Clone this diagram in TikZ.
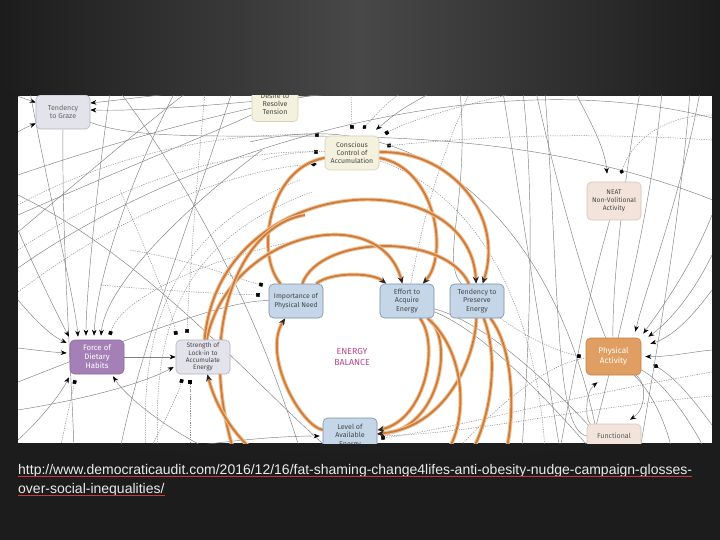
\documentclass[tikz,border=0pt]{standalone}
\usepackage{fontspec}
\setmainfont{Liberation Sans}
\newfontfamily\nodefont{Fira Sans}
\usetikzlibrary{arrows.meta,fadings}
\definecolor{bgdark}{RGB}{28,28,28}
\definecolor{bgmid}{RGB}{72,72,72}
\definecolor{orng}{RGB}{206,124,58}
\definecolor{orhalo}{RGB}{240,196,156}
\definecolor{grazef}{RGB}{227,227,235}
\definecolor{grazeb}{RGB}{178,178,192}
\definecolor{creamf}{RGB}{244,241,222}
\definecolor{creamb}{RGB}{214,208,182}
\definecolor{peachf}{RGB}{242,228,218}
\definecolor{peachb}{RGB}{214,194,180}
\definecolor{bluef}{RGB}{196,214,231}
\definecolor{blueb}{RGB}{120,142,166}
\definecolor{purplef}{RGB}{165,128,183}
\definecolor{purpleb}{RGB}{140,104,160}
\definecolor{paf}{RGB}{224,158,98}
\definecolor{pab}{RGB}{198,128,70}
\definecolor{ebtext}{RGB}{186,70,140}
\definecolor{ulred}{RGB}{205,55,55}
\tikzfading[name=fadedown, top color=transparent!100, bottom color=transparent!0]
\pgfdeclarelayer{back}
\pgfdeclarelayer{lines}
\pgfsetlayers{back,lines,main}
\begin{document}
\begin{tikzpicture}[x=1pt,y=-1pt,
  box/.style={rounded corners=4.5pt, line width=0.6pt, minimum width=54pt, minimum height=34pt,
    align=center, inner sep=1pt, font=\nodefont\fontsize{7.1}{8.2}\selectfont, text=black!72},
  gl/.style={draw=black!50, line width=0.45pt},
  gd/.style={draw=black!45, line width=0.5pt, dash pattern=on 1.2pt off 1.2pt},
  orl/.style={draw=orhalo, line width=1pt, double=orng, double distance=1.9pt},
  atri/.style={-{Stealth[length=6pt,width=4.6pt,color=black]}},
  asq/.style={-{Square[length=3.6pt,width=3.6pt,color=black]}},
  adia/.style={-{Diamond[length=6pt,width=4.6pt,color=black]}},
  acirc/.style={-{Circle[length=4.4pt,color=black]}},
  otri/.style={-{Stealth[length=7pt,width=6pt,color=black!85]}},
]
\useasboundingbox (0,0) rectangle (720,540);
\begin{pgfonlayer}{back}
  \shade[left color=bgdark, right color=bgdark, middle color=bgmid] (0,0) rectangle (720,540);
  \fill[bgdark, path fading=fadedown] (0,90) rectangle (720,470);
  \fill[bgdark] (0,470) rectangle (720,540);
  \fill[white] (18,96) rectangle (712,443);
\end{pgfonlayer}

% ---------------- nodes ----------------
\begin{scope}
\clip (18,96) rectangle (712,443);
\node[box, fill=grazef, draw=grazeb, text=black!60] (gz) at (63,112) {Tendency\\to Graze};
\node[box, fill=creamf, draw=creamb, minimum height=36pt, minimum width=46pt] (dr) at (275,103.5) {Desire to\\Resolve\\Tension};
\node[box, fill=creamf, draw=creamb, font=\nodefont\fontsize{6.9}{8}\selectfont] (cc) at (352,153) {Conscious\\Control of\\Accumulation};
\node[box, fill=peachf, draw=peachb, minimum height=38pt, font=\nodefont\fontsize{6.7}{8.4}\selectfont] (neat) at (614,201) {NEAT\\Non-Volitional\\Activity};
\node[box, fill=bluef, draw=blueb, font=\nodefont\fontsize{6.9}{8.8}\selectfont] (imp) at (296,301) {Importance of\\Physical Need};
\node[box, fill=bluef, draw=blueb] (eff) at (407,301) {Effort to\\Acquire\\Energy};
\node[box, fill=bluef, draw=blueb] (tp) at (477,301) {Tendency to\\Preserve\\Energy};
\node[box, fill=purplef, draw=purpleb, text=white, font=\nodefont\fontsize{7.8}{9}\selectfont] (fd) at (97,357) {Force of\\Dietary\\Habits};
\node[box, fill=grazef, draw=grazeb, font=\nodefont\fontsize{6.5}{7.2}\selectfont] (sl) at (203,357) {Strength of\\Lock-in to\\Accumulate\\Energy};
\node[font=\nodefont\fontsize{8.8}{11.5}\selectfont, text=ebtext, align=center] (eb) at (352,357) {ENERGY\\BALANCE};
\node[box, fill=paf, draw=pab, text=white, minimum width=55pt, minimum height=37pt, font=\nodefont\fontsize{8.2}{10.2}\selectfont] (pa) at (613.5,356.5) {Physical\\Activity};
\node[box, fill=bluef, draw=blueb, minimum height=36pt] (lev) at (350,436) {Level of\\Available\\Energy};
\node[box, fill=peachf, draw=peachb, text=black!65] (func) at (614,441) {Functional\\\strut};
\end{scope}

% ---------------- connectors ----------------
\begin{pgfonlayer}{lines}
\clip (18,96) rectangle (712,443);
% free ends
\coordinate (c1) at (5,92);   \coordinate (c2) at (5,142);
\coordinate (c3) at (300,84); \coordinate (c4) at (440,84);
\coordinate (c5) at (725,205);\coordinate (c6) at (74,450);
\coordinate (c7) at (18,232); \coordinate (c8) at (190,90);
\coordinate (c9) at (18,175); \coordinate (c10) at (330,92);
\coordinate (x1) at (18,195); \coordinate (x2) at (330,450);
\coordinate (x3) at (120,92); \coordinate (x4) at (300,450);
\coordinate (x5) at (232,92); \coordinate (x6) at (120,450);
\coordinate (x7) at (18,382);
\coordinate (x8) at (460,92); \coordinate (x9) at (470,92);
\coordinate (x10) at (18,268); \coordinate (x11) at (720,120);
\coordinate (f1) at (18,300); \coordinate (f2) at (18,348);
\coordinate (f3) at (18,230); \coordinate (f4) at (30,92);
\coordinate (f5) at (110,92); \coordinate (f6) at (175,92);
\coordinate (f7) at (262,150); \coordinate (f8) at (300,240);
\coordinate (f9) at (18,440); \coordinate (f10) at (60,450);
\coordinate (f11) at (210,450);
\coordinate (s1) at (120,190); \coordinate (s2) at (205,92);
\coordinate (s3) at (18,410); \coordinate (s4) at (150,450);
\coordinate (s5) at (190,450);
\coordinate (d1) at (300,180); \coordinate (d2) at (146,450);
\coordinate (d3) at (312,192); \coordinate (d4) at (158,450);
\coordinate (i1) at (130,250); \coordinate (i2) at (100,285);
\coordinate (k1) at (351,92);  \coordinate (k2) at (402,92);
\coordinate (k3) at (432,92);  \coordinate (k4) at (520,92);
\coordinate (k5) at (712,140); \coordinate (k6) at (18,205);
\coordinate (k7) at (18,250);  \coordinate (k8) at (18,292);
\coordinate (dd1) at (18,215);
\coordinate (n1) at (575,92);  \coordinate (n2) at (712,115);
\coordinate (n3) at (560,450);
\coordinate (v1) at (150,452); \coordinate (v2) at (712,372);
\coordinate (v3) at (712,396);
\coordinate (e1) at (600,460); \coordinate (e2) at (616,455);
\coordinate (p1) at (700,92);  \coordinate (p2) at (712,215);
\coordinate (p3) at (712,255); \coordinate (p4) at (712,290);
\coordinate (p5) at (712,350); \coordinate (p6) at (712,425);
\coordinate (p9) at (672,450); \coordinate (p10) at (705,450);
\coordinate (p11) at (545,92); \coordinate (p12) at (536,92);
\coordinate (p13) at (640,92); \coordinate (p14) at (455,452);
\coordinate (r1) at (503,92);  \coordinate (r2) at (560,450);
\coordinate (r3) at (523,92);  \coordinate (r4) at (522,450);
\coordinate (r5) at (662,92);  \coordinate (r6) at (590,450);
\coordinate (r7) at (250,142); \coordinate (r8) at (600,450);
\coordinate (r9) at (262,160); \coordinate (r10) at (545,450);
\coordinate (r11) at (690,92); \coordinate (r12) at (640,450);
\coordinate (o1) at (470,455); \coordinate (o2) at (445,455);
\coordinate (o3) at (305,215); \coordinate (o4) at (235,455);
\coordinate (o7) at (258,455); \coordinate (o8) at (505,455);

% --- Tendency to Graze
\draw[gl,atri] (c1) .. controls (20,97) .. (gz);
\draw[gl,atri] (c2) .. controls (20,130) .. (gz);
\draw[gl,atri] (c3) .. controls (220,86) and (140,98) .. ([yshift=9pt]gz.east);
\draw[gl,atri] (c4) .. controls (300,96) and (170,112) .. ([yshift=2pt]gz.east);
\draw[gl] (gz) .. controls (190,160) and (460,95) .. (c5);
\draw[gl] (gz) .. controls (62,250) and (72,380) .. (c6);
% --- long crossing lines
\draw[gl] (c7) .. controls (80,180) and (150,120) .. (c8);
\draw[gl] (c9) .. controls (120,140) and (230,110) .. (c10);
\draw[gl] (x1) .. controls (150,260) and (250,380) .. (x2);
\draw[gl] (x3) .. controls (200,200) and (260,320) .. (x4);
\draw[gl] (x5) .. controls (180,250) and (140,350) .. (x6);
\draw[gl] (x7) .. controls (150,330) and (230,300) .. (imp);
\draw[gl] (x8) .. controls (470,200) and (440,260) .. (tp);
\draw[gd] (x9) .. controls (430,180) and (420,240) .. (eff);
\draw[gl] (x10) .. controls (200,140) and (500,60) .. (x11);
\draw[gl] (dr) .. controls (220,130) and (120,170) .. (dd1);
% --- Force of Dietary Habits
\draw[gl,atri] (f3) .. controls (40,280) and (60,320) .. ([xshift=-28pt,yshift=3pt]fd.north);
\draw[gl,atri] (f4) .. controls (50,200) and (75,300) .. ([xshift=-19pt,yshift=3pt]fd.north);
\draw[gl,atri] (f5) .. controls (95,200) and (86,300) .. ([xshift=-11pt,yshift=4pt]fd.north);
\draw[gl,atri] (f6) .. controls (120,200) and (96,290) .. ([xshift=-3pt,yshift=4pt]fd.north);
\draw[gl,atri] (f7) .. controls (170,220) and (105,290) .. ([xshift=4pt,yshift=4pt]fd.north);
\draw[gd,asq] (f8) .. controls (200,260) and (120,300) .. ([xshift=13pt,yshift=5pt]fd.north);
\draw[gl,atri] (f1) .. controls (35,320) and (50,335) .. ([xshift=-3pt,yshift=14pt]fd.west);
\draw[gl,atri] (f2) .. controls (35,350) and (50,352) .. ([xshift=-3pt,yshift=4pt]fd.west);
\draw[gl,atri] (f9) .. controls (40,420) and (60,395) .. ([xshift=-28pt,yshift=-3pt]fd.south);
\draw[gd,asq] (f10) .. controls (66,420) and (72,395) .. ([xshift=-22pt,yshift=-6pt]fd.south);
\draw[gl,atri] (f11) .. controls (160,425) and (125,395) .. ([xshift=16pt,yshift=-2pt]fd.south);
\draw[gl,atri] (fd) -- (sl);
% --- Strength of Lock-in
\draw[gd,asq] (s1) .. controls (150,260) and (172,310) .. ([xshift=-27pt,yshift=5pt]sl.north);
\draw[gd,asq] (s2) .. controls (195,200) and (188,300) .. ([xshift=-16pt,yshift=7pt]sl.north);
\draw[gl,atri] (s3) .. controls (80,400) and (140,385) .. ([xshift=-2pt,yshift=-10pt]sl.west);
\draw[gd,asq] (s4) .. controls (165,420) and (178,395) .. ([xshift=-21pt,yshift=-5pt]sl.south);
\draw[gd,asq] (s5) .. controls (190,420) and (190,400) .. ([xshift=-13pt,yshift=-6pt]sl.south);
\draw[gd] (d1) .. controls (170,230) and (140,330) .. (d2);
\draw[gd] (d3) .. controls (180,240) and (152,330) .. (d4);
% --- Importance of Physical Need
\draw[gd,asq] (i1) .. controls (200,262) and (240,280) .. ([xshift=-6pt,yshift=16pt]imp.west);
\draw[gd,asq] (i2) .. controls (180,292) and (230,294) .. ([xshift=-9pt,yshift=6pt]imp.west);
% --- Conscious Control
\draw[gd,asq] (k1) -- ([yshift=7pt]cc.north);
\draw[gd,acirc] (k2) .. controls (385,105) .. ([xshift=11pt,yshift=7pt]cc.north);
\draw[gl,atri] (k3) .. controls (400,110) .. ([xshift=24pt,yshift=6pt]cc.north);
\draw[gd,asq] (k4) .. controls (440,110) and (400,125) .. ([xshift=6pt,yshift=2pt]cc.north east);
\draw[gd,asq] (k5) .. controls (550,130) and (450,140) .. ([xshift=8pt,yshift=-10pt]cc.north east);
\draw[gd,asq] (k6) .. controls (120,150) and (230,132) .. ([xshift=-6pt,yshift=18pt]cc.west);
\draw[gd,asq] (k7) .. controls (130,175) and (240,150) .. ([xshift=-7pt,yshift=1pt]cc.west);
\draw[gd,adia] (k8) .. controls (140,200) and (250,168) .. ([xshift=-8pt,yshift=-11pt]cc.west);
% --- NEAT
\draw[gl,atri] (n1) .. controls (595,130) and (605,150) .. ([xshift=-7pt,yshift=8pt]neat.north);
\draw[gd,acirc] (n2) .. controls (660,115) and (630,145) .. ([xshift=7pt,yshift=8pt]neat.north);
\draw[gl] (neat) .. controls (605,240) and (590,280) .. (n3);
% --- Level of Available Energy
\draw[gl,atri] (v1) .. controls (230,440) and (280,436) .. ([xshift=-3pt]lev.west);
\draw[gd,asq] (v2) .. controls (550,400) and (450,430) .. ([xshift=4pt,yshift=-2pt]lev.east);
\draw[gd] (v3) .. controls (560,410) and (470,435) .. (lev);
% --- Effort
\draw[gl] (eff) .. controls (480,330) and (540,390) .. (e1);
\draw[gl] (eff) .. controls (488,324) and (552,384) .. (e2);
% --- Physical Activity
\draw[gl,atri] (p1) .. controls (680,200) and (645,290) .. ([xshift=-6pt,yshift=6pt]pa.north east);
\draw[gl,atri] (p2) .. controls (690,270) and (660,310) .. ([xshift=2pt,yshift=4pt]pa.north east);
\draw[gl,atri] (p3) .. controls (690,300) and (665,325) .. ([xshift=7pt,yshift=1pt]pa.north east);
\draw[gl,atri] (p4) .. controls (690,320) and (670,338) .. ([xshift=9pt,yshift=-6pt]pa.north east);
\draw[gl,atri] (p5) .. controls (690,352) and (670,357) .. ([xshift=4pt]pa.east);
\draw[gl,adia] (p6) .. controls (690,395) and (675,378) .. ([xshift=12pt,yshift=-8pt]pa.east);
\draw[gd,asq] (tp) .. controls (530,340) and (560,352) .. ([xshift=-5pt]pa.west);
\draw[gl,atri] (func) .. controls (585,420) and (585,392) .. ([xshift=-16pt,yshift=-7pt]pa.south);
\draw[gl,atri] (pa) .. controls (648,385) and (645,410) .. ([xshift=16pt,yshift=4pt]func.north);
\draw[gl] (pa) .. controls (650,390) and (665,420) .. (p9);
\draw[gl] (pa) .. controls (662,380) and (690,420) .. (p10);
\draw[gl] (p11) .. controls (560,300) and (555,430) .. (func);
\draw[gl] (p12) .. controls (560,200) and (590,300) .. (pa);
\draw[gl] (p13) .. controls (620,200) and (612,300) .. (pa);
\draw[gd] (p14) .. controls (510,390) and (560,360) .. (pa);
% --- right long curves
\draw[gl] (r1) .. controls (520,200) and (540,330) .. (r2);
\draw[gl] (r3) .. controls (535,200) and (530,330) .. (r4);
\draw[gl] (r5) .. controls (650,220) and (620,330) .. (r6);
\draw[gl] (r7) .. controls (420,100) and (560,220) .. (r8);
\draw[gd] (r9) .. controls (400,120) and (530,220) .. (r10);
\draw[gl] (r11) .. controls (680,220) and (660,330) .. (r12);

% ---------------- orange energy loops ----------------
\draw[orl] (cc) .. controls (268,168) and (255,255) .. (imp);
\draw[orl,otri] (cc) .. controls (436,168) and (449,255) .. (eff);
\draw[orl,otri] (cc) .. controls (450,150) and (505,215) .. (tp);
\draw[orl,otri] (imp) .. controls (330,272) and (372,272) .. (eff);
\draw[orl] (imp) .. controls (320,235) and (445,232) .. (tp);
\draw[orl,otri] (sl) .. controls (230,230) and (380,200) .. (eff);
\draw[orl,otri] (sl) .. controls (220,170) and (470,160) .. (tp);
\draw[orl,otri] (lev) .. controls (300,425) and (262,355) .. (imp);
\draw[orl,otri] (eff) .. controls (440,345) and (425,420) .. (lev);
\draw[orl,otri] (eff) .. controls (455,340) and (440,430) .. (lev);
\draw[orl,otri] (tp) .. controls (475,360) and (445,428) .. (lev);
\draw[orl] (tp) .. controls (500,360) and (490,420) .. (o1);
\draw[orl] (eff) .. controls (465,350) and (470,420) .. (o2);
\draw[orl] (tp) .. controls (515,350) and (515,420) .. (o8);
\draw[orl] (o3) .. controls (240,225) and (195,330) .. (o4);
\draw[orl,otri] (o7) .. controls (228,430) and (214,400) .. (sl);
\end{pgfonlayer}

% ---------------- source link ----------------
\node[anchor=base west, inner sep=0pt, text=white!92!black, font=\fontsize{14}{16}\selectfont] (url1) at (18,474)
  {http://www.democraticaudit.com/2016/12/16/fat-shaming-change4lifes-anti-obesity-nudge-campaign-glosses-};
\node[anchor=base west, inner sep=0pt, text=white!92!black, font=\fontsize{14}{16}\selectfont] (url2) at (18,493)
  {over-social-inequalities/};
\draw[ulred, line width=0.8pt] ([yshift=-2pt]url1.base west) -- ([yshift=-2pt]url1.base east);
\draw[ulred, line width=0.8pt] ([yshift=-2pt]url2.base west) -- ([yshift=-2pt]url2.base east);
\end{tikzpicture}
\end{document}
